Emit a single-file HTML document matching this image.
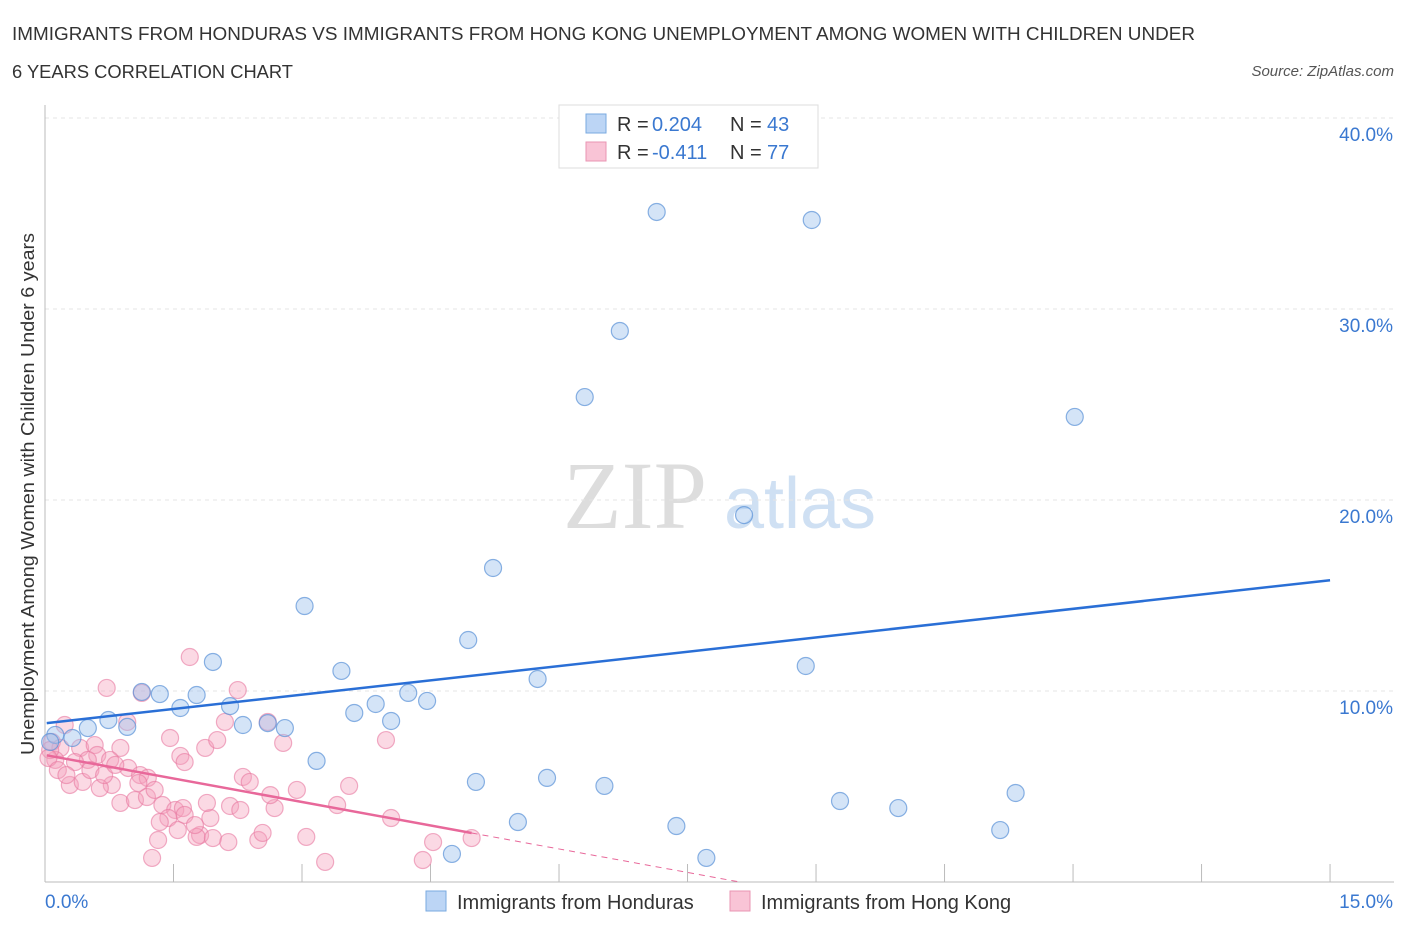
<!DOCTYPE html>
<html><head><meta charset="utf-8"><style>
body{margin:0;background:#fff;font-family:"Liberation Sans",sans-serif}
</style></head><body>
<svg id="c" width="1406" height="930" xmlns="http://www.w3.org/2000/svg">
<text x="12" y="40" font-size="18" fill="#333" textLength="1183" lengthAdjust="spacingAndGlyphs">IMMIGRANTS FROM HONDURAS VS IMMIGRANTS FROM HONG KONG UNEMPLOYMENT AMONG WOMEN WITH CHILDREN UNDER</text>
<text x="12" y="78" font-size="18" fill="#333" textLength="281" lengthAdjust="spacingAndGlyphs">6 YEARS CORRELATION CHART</text>
<text x="1394" y="76" font-size="15" fill="#555" font-style="italic" text-anchor="end">Source: ZipAtlas.com</text>
<text x="635" y="528" font-size="96" fill="#ddd" font-family="Liberation Serif" text-anchor="middle">ZIP</text>
<text x="800" y="528" font-size="72" fill="#cfe0f3" text-anchor="middle">atlas</text>
<text transform="translate(34,494) rotate(-90)" font-size="18" fill="#333" text-anchor="middle" textLength="522" lengthAdjust="spacingAndGlyphs">Unemployment Among Women with Children Under 6 years</text>
<g id="grid"></g><g id="pts"></g><g id="lines"></g>
<g>
<rect x="559" y="105" width="259" height="63" fill="#fff" stroke="#ddd"/>
<rect x="586" y="114" width="20" height="19" fill="#bcd5f5" stroke="#7aaae0"/>
<text x="617" y="131" font-size="20" fill="#333">R = </text><text x="652" y="131" font-size="20" fill="#3a78d0">0.204</text>
<text x="730" y="131" font-size="20" fill="#333">N = </text><text x="767" y="131" font-size="20" fill="#3a78d0">43</text>
<rect x="586" y="142" width="20" height="19" fill="#f9c4d6" stroke="#e995b3"/>
<text x="617" y="159" font-size="20" fill="#333">R = </text><text x="652" y="159" font-size="20" fill="#3a78d0">-0.411</text>
<text x="730" y="159" font-size="20" fill="#333">N = </text><text x="767" y="159" font-size="20" fill="#3a78d0">77</text>
</g>
<g>
<rect x="426" y="891" width="20" height="20" fill="#bcd5f5" stroke="#7aaae0"/>
<text x="457" y="909" font-size="20" fill="#333">Immigrants from Honduras</text>
<rect x="730" y="891" width="20" height="20" fill="#f9c4d6" stroke="#e995b3"/>
<text x="761" y="909" font-size="20" fill="#333">Immigrants from Hong Kong</text>
</g>
</svg>
<script>
const blueX=[7.14,8.95,6.71,6.30,12.02,8.16,5.23,3.03,4.94,1.96,8.88,3.46,5.75,1.13,1.34,1.77,4.24,4.46,1.58,2.16,3.86,3.61,0.74,4.04,2.60,2.31,2.80,0.96,0.50,0.32,0.12,0.06,3.17,5.03,5.86,6.53,9.28,9.96,11.33,5.52,7.37,11.15,4.75,7.72];
const blueY=[35.08,34.66,28.85,25.39,24.35,19.21,16.44,14.45,12.67,11.52,11.31,11.05,10.63,9.95,9.84,9.79,9.90,9.48,9.11,9.21,9.32,8.85,8.48,8.43,8.32,8.22,8.06,8.12,8.06,7.54,7.70,7.33,6.34,5.24,5.45,5.03,4.24,3.87,4.66,3.14,2.93,2.72,1.47,1.26];
const pinkX=[1.69,0.72,2.25,1.13,0.96,0.23,2.10,2.60,2.78,3.98,1.46,1.87,2.01,0.08,0.18,0.41,0.58,0.88,0.61,0.50,0.35,0.12,0.06,0.76,0.97,1.58,1.63,1.11,1.20,2.31,2.39,0.78,0.29,0.44,0.64,1.09,2.94,3.55,1.37,1.52,1.61,0.88,1.05,1.19,2.16,2.68,3.41,1.93,1.63,1.44,1.34,1.81,1.77,1.96,2.14,2.49,2.54,3.05,4.04,4.53,4.98,1.32,1.25,3.27,4.41,0.04,0.15,0.25,0.53,0.69,0.82,2.28,2.63,1.75,1.55,1.89,1.28];
const pinkY=[11.78,10.16,10.05,9.90,8.38,8.22,8.38,8.38,7.28,7.43,7.54,7.02,7.43,7.33,7.02,7.02,7.17,7.02,6.65,6.39,6.28,6.39,6.91,6.39,5.97,6.60,6.28,5.60,5.45,5.50,5.24,5.08,5.08,5.24,4.92,5.18,4.82,5.03,4.03,3.77,3.87,4.14,4.29,4.45,3.98,3.87,4.03,3.35,3.51,3.35,3.14,2.46,2.36,2.30,2.09,2.20,2.57,2.36,3.35,2.09,2.30,2.20,1.26,1.05,1.15,6.49,5.86,5.60,5.86,5.60,6.13,3.77,4.55,2.98,2.72,4.14,4.82];
const yTicks=[10,20,30,40];
const yTickLabels=["10.0%","20.0%","30.0%","40.0%"];
const blueTrend=[8.32,15.8];
const pinkTrend=[6.65,-0.82];
const pinkSolidEnd=4.98;
const X=v=>45+v*85.67, Y=v=>882-v*19.1;
const NS="http://www.w3.org/2000/svg";
function mk(t,a,p){const e=document.createElementNS(NS,t);for(const k in a)e.setAttribute(k,a[k]);p.appendChild(e);return e;}
const g=document.getElementById('grid');
yTicks.forEach((t,i)=>{
 const l=mk('line',{x1:45,x2:1394,y1:Y(t),y2:Y(t),stroke:'#e4e4e4','stroke-dasharray':'4,4'},g);
 
 
 const tx=mk('text',{x:1393,y:Y(t)+23,'font-size':19,fill:'#3a78d0','text-anchor':'end'},g);
 tx.textContent=yTickLabels[i];
 
 
});
let ax=mk('line',{x1:45,x2:45,y1:105,y2:882,stroke:'#bbb'},g);


ax=mk('line',{x1:45,x2:1394,y1:882,y2:882,stroke:'#bbb'},g);


for(let i=1;i<=10;i++){const t=mk('line',{x1:X(i*1.5),x2:X(i*1.5),y1:864,y2:882,stroke:'#bbb'},g);
 
 }
let t0=mk('text',{x:45,y:908,'font-size':19,fill:'#3a78d0'},g);t0.textContent='0.0%';


t0=mk('text',{x:1393,y:908,'font-size':19,fill:'#3a78d0','text-anchor':'end'},g);t0.textContent='15.0%';


const p=document.getElementById('pts');
pinkX.forEach((x,i)=>{const c=mk('circle',{cx:X(x),cy:Y(pinkY[i]),r:8.5,fill:'rgba(244,160,188,0.4)',stroke:'rgba(232,120,160,0.6)','stroke-width':1.2},p);
 
 });
blueX.forEach((x,i)=>{const c=mk('circle',{cx:X(x),cy:Y(blueY[i]),r:8.5,fill:'rgba(160,196,238,0.45)',stroke:'rgba(90,145,215,0.7)','stroke-width':1.2},p);
 
 });
const L=document.getElementById('lines');
let ln=mk('line',{x1:X(0.02),y1:Y(blueTrend[0]),x2:X(15),y2:Y(blueTrend[1]),stroke:'#2a6fd6','stroke-width':2.5},L);


const pf=x=>pinkTrend[0]+pinkTrend[1]*x;
ln=mk('line',{x1:X(0.02),y1:Y(pf(0.02)),x2:X(pinkSolidEnd),y2:Y(pf(pinkSolidEnd)),stroke:'#e8689a','stroke-width':2.5},L);


const xe=-pinkTrend[0]/pinkTrend[1];
ln=mk('line',{x1:X(pinkSolidEnd),y1:Y(pf(pinkSolidEnd)),x2:X(xe),y2:Y(0),stroke:'#e8689a','stroke-width':1,'stroke-dasharray':'6,5'},L);


</script>
</body></html>
